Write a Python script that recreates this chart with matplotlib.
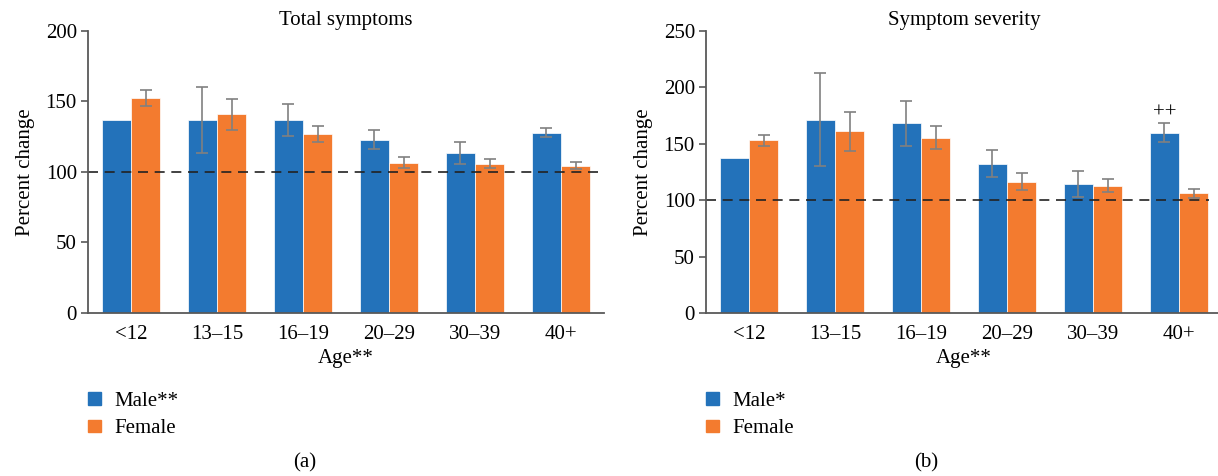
import numpy as np
import matplotlib
matplotlib.use("Agg")
import matplotlib.pyplot as plt
from matplotlib.patches import Patch

plt.rcParams["font.family"] = ["Liberation Serif", "DejaVu Serif"]

ages = ["<12", "13–15", "16–19", "20–29", "30–39", "40+"]

# Total symptoms (a)
total_male = [137, 137, 137, 123, 113.5, 128]
total_male_err = [0, 23.5, 11.5, 6.5, 8, 3.5]
total_female = [152.5, 141, 127, 106.5, 106, 104.5]
total_female_err = [5.5, 11, 5.5, 4, 3, 2.5]

# Symptom severity (b)
sev_male = [137, 171.5, 168, 132.5, 114, 160]
sev_male_err = [0, 41, 20, 12, 11.5, 8]
sev_female = [153, 161, 155.5, 116.5, 113, 106]
sev_female_err = [5, 17.5, 10.5, 7.5, 6, 4]

blue = "#2372BA"
orange = "#F37B2F"
gray = "#595959"
fs = 15

fig = plt.figure(figsize=(12.18, 4.76), dpi=100)
ax1 = fig.add_axes([0.07225, 0.34244, 0.42365, 0.59244])
ax2 = fig.add_axes([0.57964, 0.34244, 0.42365, 0.59244])

x = np.arange(len(ages))
w = 0.33


def draw(ax, male, male_err, female, female_err, title, ymax, male_label, dash_end):
    ax.bar(x - 0.17, male, w, color=blue, edgecolor="white", linewidth=0.5)
    ax.bar(x + 0.17, female, w, color=orange, edgecolor="white", linewidth=0.5)
    me = np.array(male_err)
    has = me > 0
    ax.errorbar(x[has] - 0.17, np.array(male)[has], yerr=me[has], fmt="none",
                ecolor="#808080", elinewidth=1.2, capsize=4, capthick=1.2)
    ax.errorbar(x + 0.17, female, yerr=female_err, fmt="none",
                ecolor="#808080", elinewidth=1.2, capsize=4, capthick=1.2)
    ax.axhline(100, xmin=0, xmax=dash_end, color="#222222", linestyle=(0, (6, 4)),
               linewidth=1.2)

    ax.set_xlim(-0.5, 5.5)
    ax.set_ylim(0, ymax)
    ax.set_yticks(np.arange(0, ymax + 1, 50))
    ax.set_xticks(x)
    ax.set_xticklabels(ages)
    ax.set_title(title, fontsize=fs, pad=4)
    ax.set_ylabel("Percent change", fontsize=fs, labelpad=8)
    ax.set_xlabel("Age**", fontsize=fs, labelpad=3)

    for s in ["top", "right"]:
        ax.spines[s].set_visible(False)
    for s in ["left", "bottom"]:
        ax.spines[s].set_color(gray)
        ax.spines[s].set_linewidth(1.3)
    ax.tick_params(axis="y", length=5, width=1.2, color=gray, labelsize=fs, pad=3)
    ax.tick_params(axis="x", length=0, labelsize=fs, pad=9)

    handles = [Patch(color=blue, label=male_label), Patch(color=orange, label="Female")]
    ax.legend(handles=handles, loc="upper left", bbox_to_anchor=(0, -0.28),
              frameon=False, fontsize=fs, borderpad=0, borderaxespad=0,
              handlelength=0.6, handleheight=0.55, handletextpad=0.65,
              labelspacing=0.4)


draw(ax1, total_male, total_male_err, total_female, total_female_err,
     "Total symptoms", 200, "Male**", 1.0)
draw(ax2, sev_male, sev_male_err, sev_female, sev_female_err,
     "Symptom severity", 250, "Male*", 0.975)

ax2.text(5 - 0.17, 177, "++", ha="center", va="center", fontsize=fs)

fig.text(305 / 1218, 1 - 463 / 476, "(a)", ha="center", va="center", fontsize=fs)
fig.text(926 / 1218, 1 - 463 / 476, "(b)", ha="center", va="center", fontsize=fs)

fig.savefig("out.png", dpi=100)
